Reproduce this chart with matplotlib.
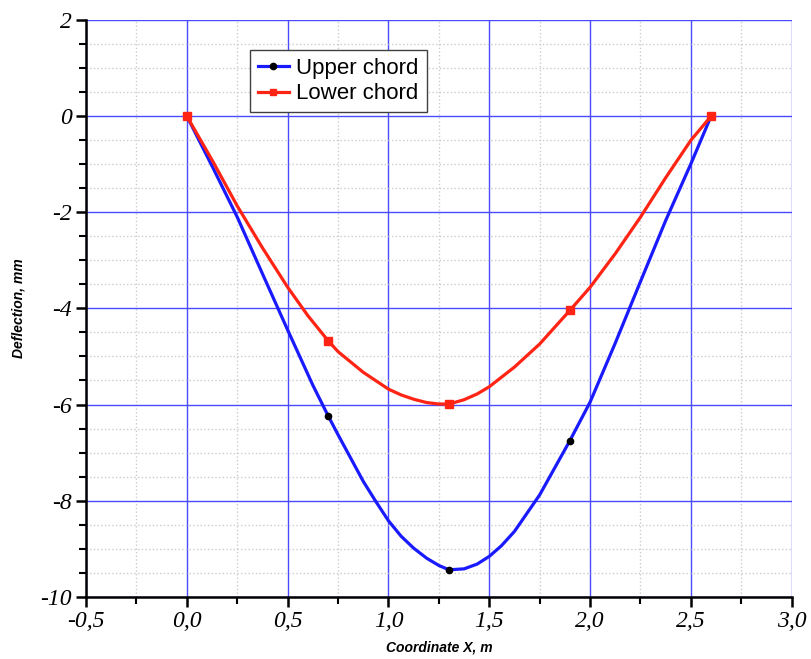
import matplotlib
matplotlib.use('Agg')
import matplotlib.pyplot as plt
from matplotlib.ticker import MultipleLocator, FuncFormatter

# values
upper_x = [0, 0.13, 0.25, 0.375, 0.5, 0.625, 0.7, 0.75, 0.875, 0.9375, 1.0, 1.0625, 1.125, 1.19, 1.25, 1.3,
           1.375, 1.44, 1.5, 1.56, 1.625, 1.75, 1.9, 2.0, 2.125, 2.25, 2.375, 2.5, 2.6]
upper_y = [0, -1.08, -2.1, -3.28, -4.45, -5.6, -6.23, -6.63, -7.6, -8.02, -8.42, -8.74, -8.99, -9.2, -9.35, -9.44,
           -9.42, -9.32, -9.16, -8.94, -8.64, -7.88, -6.75, -5.95, -4.72, -3.44, -2.17, -0.99, 0]
lower_x = [0, 0.13, 0.25, 0.375, 0.5, 0.6, 0.7, 0.75, 0.875, 1.0, 1.0625, 1.125, 1.19, 1.25, 1.3,
           1.375, 1.44, 1.5, 1.625, 1.75, 1.9, 2.0, 2.125, 2.25, 2.375, 2.5, 2.6]
lower_y = [0, -0.95, -1.87, -2.74, -3.56, -4.15, -4.67, -4.9, -5.33, -5.68, -5.8, -5.89, -5.96, -5.99, -5.99,
           -5.9, -5.78, -5.63, -5.22, -4.74, -4.04, -3.56, -2.86, -2.10, -1.28, -0.5, 0]

node_x = [0, 0.7, 1.3, 1.9, 2.6]
upper_nodes = [0, -6.23, -9.44, -6.75, 0]
lower_nodes = [0, -4.67, -5.99, -4.04, 0]


def main():
    fig = plt.figure(figsize=(8.12, 6.59), dpi=100)
    ax = fig.add_axes([0.106, 0.0945, 0.869, 0.875])

    blue = '#1a1aff'
    red = '#ff2414'

    ax.plot(upper_x, upper_y, color=blue, lw=2.3, zorder=3)
    ax.plot(node_x, upper_nodes, ls='none', marker='o', ms=4.5, color='black', zorder=4)
    ax.plot(lower_x, lower_y, color=red, lw=2.3, zorder=5)
    ax.plot(node_x, lower_nodes, ls='none', marker='s', ms=6, color=red, zorder=6)

    # legend handles
    h1, = ax.plot([], [], color=blue, lw=2.3, marker='o', ms=4.5, mfc='black', mec='black', label='Upper chord')
    h2, = ax.plot([], [], color=red, lw=2.3, marker='s', ms=5, label='Lower chord')
    leg = ax.legend(handles=[h1, h2], loc='upper left', bbox_to_anchor=(0.232, 0.948),
                    borderaxespad=0, prop={'family': 'Liberation Sans', 'size': 16},
                    frameon=True, fancybox=False, edgecolor='#404040', handlelength=1.4,
                    handletextpad=0.35, borderpad=0.35, labelspacing=0.2, framealpha=1)
    leg.get_frame().set_linewidth(1.0)

    ax.set_xlim(-0.5, 3.0)
    ax.set_ylim(-10, 2)
    ax.xaxis.set_major_locator(MultipleLocator(0.5))
    ax.xaxis.set_minor_locator(MultipleLocator(0.25))
    ax.yaxis.set_major_locator(MultipleLocator(2))
    ax.yaxis.set_minor_locator(MultipleLocator(0.5))
    ax.xaxis.set_major_formatter(FuncFormatter(lambda v, p: ('%.1f' % v).replace('.', ',')))
    ax.yaxis.set_major_formatter(FuncFormatter(lambda v, p: '%d' % round(v)))

    ax.grid(which='minor', color='#cccccc', ls=':', lw=1.0, zorder=0)
    ax.grid(which='major', color='#4a4aff', ls='-', lw=1.0, zorder=1)
    ax.set_axisbelow(True)

    for s in ['top', 'right']:
        ax.spines[s].set_visible(False)
    for s in ['left', 'bottom']:
        ax.spines[s].set_linewidth(1.8)
    ax.tick_params(which='major', length=7, width=1.8, direction='out')
    ax.tick_params(which='minor', length=5, width=1.5, direction='out')
    for lab in ax.get_xticklabels() + ax.get_yticklabels():
        lab.set_family('Liberation Serif')
        lab.set_style('italic')
        lab.set_fontsize(17)

    ax.set_xlabel('Coordinate X, m', family=['Liberation Sans Narrow', 'Liberation Sans'],
                  style='italic', weight='bold', fontsize=10, labelpad=6)
    ax.set_ylabel('Deflection, mm', family=['Liberation Sans Narrow', 'Liberation Sans'],
                  style='italic', weight='bold', fontsize=10, labelpad=10)

    fig.savefig('out.png', dpi=100)


if __name__ == '__main__':
    main()
